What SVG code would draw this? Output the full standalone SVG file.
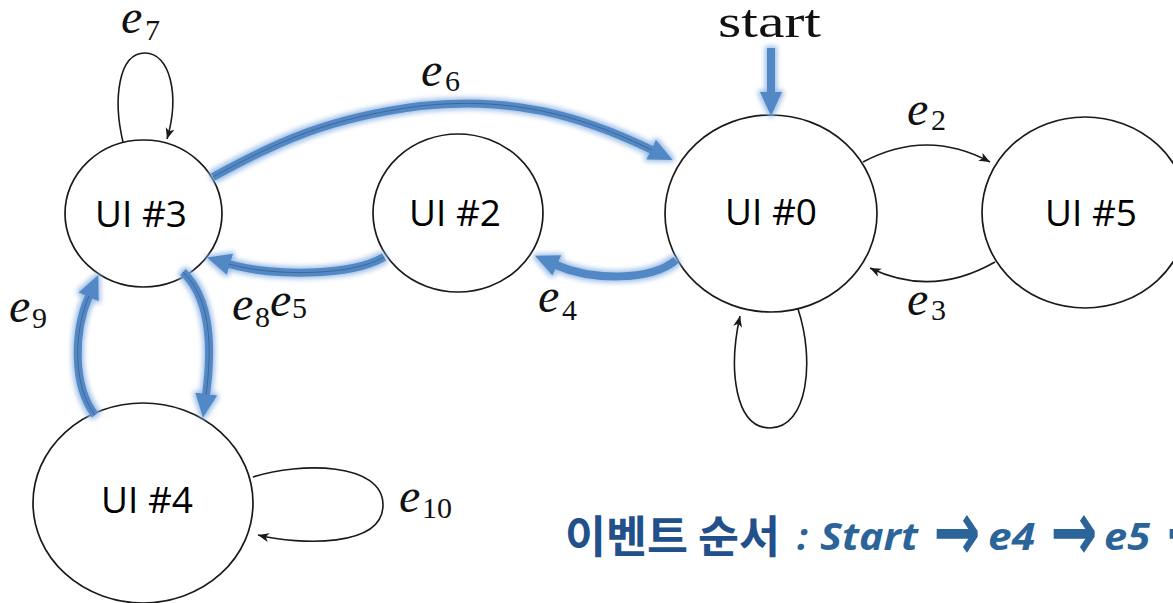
<svg xmlns="http://www.w3.org/2000/svg" width="1173" height="603" viewBox="0 0 1173 603">
<style>
.node{fill:#fff;stroke:#1a1a1a;stroke-width:1.7}
.lbl{font-family:"Open Sans","Lato","Liberation Sans",sans-serif;font-size:37px;fill:#000;text-anchor:middle}
.thin{fill:none;stroke:#1a1a1a;stroke-width:1.6}
.blue{fill:none;stroke:#5288c6;stroke-width:8;stroke-linecap:butt}
.core{fill:none;stroke:#2d3d55;stroke-width:1;opacity:.45}
.m{font-family:"Liberation Serif","DejaVu Serif",serif;font-style:italic;font-size:48px;fill:#111}
.s{font-style:normal;font-size:30px}
.st{font-family:"Liberation Serif","DejaVu Serif",serif;font-style:normal;font-size:46px;fill:#111}
.ko{font-family:"Noto Sans CJK KR","Noto Sans CJK SC",sans-serif;font-weight:700;font-size:44px;fill:#21508a}
.en{font-family:"Open Sans","Lato","Liberation Sans",sans-serif;font-weight:700;font-style:italic;font-size:38px;fill:#2b6499}
.ar{font-family:"DejaVu Sans",sans-serif;font-weight:700;font-size:56px;fill:#2b6499;text-anchor:middle}
</style>
<defs>
<marker id="ah" markerUnits="userSpaceOnUse" markerWidth="12" markerHeight="10" refX="11" refY="5" orient="auto" viewBox="0 0 12 10">
<path d="M0,0.5 L11,5 L0,9.5 L3,5 z" fill="#1a1a1a"/>
</marker>
<marker id="bh" markerUnits="userSpaceOnUse" markerWidth="24" markerHeight="24" refX="1" refY="12" orient="auto" viewBox="0 0 24 24">
<path d="M0,1 L24,12 L0,23 z" fill="#5288c6"/>
</marker>
<filter id="glow" filterUnits="userSpaceOnUse" x="0" y="0" width="1173" height="603">
<feMorphology in="SourceAlpha" operator="dilate" radius="2" result="d"/>
<feGaussianBlur in="d" stdDeviation="2.5" result="b"/>
<feFlood flood-color="#8db4e2" flood-opacity="0.85"/>
<feComposite in2="b" operator="in" result="g"/>
<feMerge><feMergeNode in="g"/><feMergeNode in="SourceGraphic"/></feMerge>
</filter>
</defs>
<rect width="1173" height="603" fill="#fff"/>

<g id="ui3"><ellipse class="node" cx="143.5" cy="213.5" rx="78.5" ry="73.5"/><text class="lbl" x="141" y="227">UI #3</text></g>
<g id="ui2"><ellipse class="node" cx="458" cy="213" rx="85" ry="79"/><text class="lbl" x="455" y="226">UI #2</text></g>
<g id="ui0"><ellipse class="node" cx="771" cy="213.5" rx="106" ry="98.5"/><text class="lbl" x="771" y="225">UI #0</text></g>
<g id="ui5"><ellipse class="node" cx="1085" cy="212.5" rx="103" ry="95.5"/><text class="lbl" x="1091" y="226">UI #5</text></g>
<g id="ui4"><ellipse class="node" cx="143" cy="503" rx="110" ry="100"/><text class="lbl" x="147" y="513">UI #4</text></g>

<g id="connectors">
<g id="thin-edges">
<path class="thin" marker-end="url(#ah)" d="M123,142 C113,100 118,53 145,53 C170,53 180,95 167,139"/>
<path class="thin" marker-end="url(#ah)" d="M863,162 Q927,128 990,162"/>
<path class="thin" marker-end="url(#ah)" d="M995,262 Q932,298 870,268"/>
<path class="thin" marker-end="url(#ah)" d="M798,309 C815,360 808,428 770,428 C735,428 728,370 740,316"/>
<path class="thin" marker-end="url(#ah)" d="M253,477 C300,462 383,462 383,505 C383,548 300,545 258,535"/>
</g>
<g id="highlight" filter="url(#glow)">
<path class="blue" marker-end="url(#bh)" d="M771,48 L771,93"/>
<path class="blue" marker-end="url(#bh)" d="M213,177 C280,140 330,118 420,106 C510,96 580,115 652,150"/>
<path class="blue" marker-end="url(#bh)" d="M676,260 C650,282 590,280 556,265"/>
<path class="blue" marker-end="url(#bh)" d="M384,257 C350,277 270,276 229,264"/>
<path class="blue" marker-end="url(#bh)" d="M95,415 C72,385 74,330 89,296"/>
<path class="blue" marker-end="url(#bh)" d="M183,272 C212,300 212,350 206,395"/>
</g>
<g id="cores">
<path class="core" d="M213,177 C280,140 330,118 420,106 C510,96 580,115 652,150"/>
<path class="core" d="M384,257 C350,277 270,276 229,264"/>
<path class="core" d="M95,415 C72,385 74,330 89,296"/>
<path class="core" d="M183,272 C212,300 212,350 206,395"/>
</g>
</g>

<g id="edge-labels">
<text class="st" x="718" y="37" textLength="103" lengthAdjust="spacingAndGlyphs">start</text>
<text class="m" x="121" y="33">e<tspan class="s" x="145" y="40">7</tspan></text>
<text class="m" x="421" y="86">e<tspan class="s" x="445" y="91">6</tspan></text>
<text class="m" x="907" y="125">e<tspan class="s" x="931" y="130">2</tspan></text>
<text class="m" x="907" y="315">e<tspan class="s" x="931" y="320">3</tspan></text>
<text class="m" x="538" y="312">e<tspan class="s" x="562" y="320">4</tspan></text>
<text class="m" x="232" y="320">e<tspan class="s" x="255" y="327">8</tspan></text>
<text class="m" x="270" y="316">e<tspan class="s" x="292" y="318">5</tspan></text>
<text class="m" x="9" y="322">e<tspan class="s" x="32" y="328">9</tspan></text>
<text class="m" x="399" y="512">e<tspan class="s" x="422" y="518">10</tspan></text>
</g>

<g id="caption">
<text class="ko" x="565" y="553" textLength="215" lengthAdjust="spacingAndGlyphs">이벤트 순서</text>
<text class="en" x="797" y="550">:</text>
<text class="en" x="820" y="550" textLength="98" lengthAdjust="spacingAndGlyphs">Start</text>
<text class="ar" transform="translate(957,560) scale(1,1.5)">→</text>
<text class="en" x="988" y="550" textLength="47" lengthAdjust="spacingAndGlyphs">e4</text>
<text class="ar" transform="translate(1074,560) scale(1,1.5)">→</text>
<text class="en" x="1104" y="550" textLength="46" lengthAdjust="spacingAndGlyphs">e5</text>
<text class="ar" transform="translate(1190,560) scale(1,1.5)">→</text>
</g>
</svg>
